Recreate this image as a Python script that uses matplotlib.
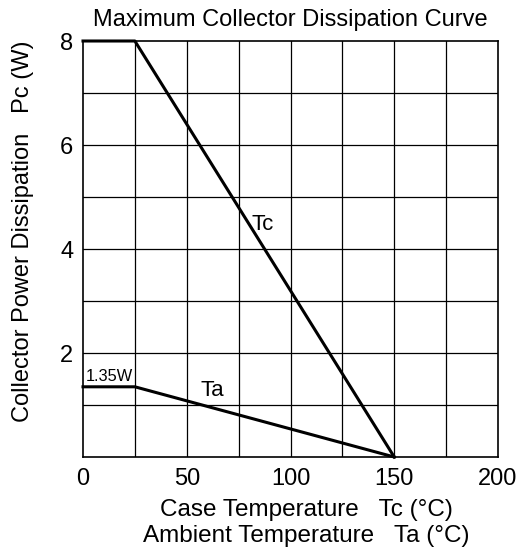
import matplotlib
matplotlib.use("Agg")
import matplotlib.pyplot as plt

plt.rcParams["font.family"] = ["Liberation Sans", "DejaVu Sans"]

# Derating curves (temperature in deg C, power in W)
tc_temp = [0, 25, 150]
tc_power = [8, 8, 0]
ta_temp = [0, 25, 150]
ta_power = [1.35, 1.35, 0]

x_ticks = [0, 50, 100, 150, 200]
y_ticks = [2, 4, 6, 8]

fig = plt.figure(figsize=(5.22, 5.55), dpi=100)
ax = fig.add_axes([83 / 522, 1 - 457 / 555, 415 / 522, 416 / 555])

ax.set_xlim(0, 200)
ax.set_ylim(0, 8)

# Grid every 25 degC and every 1 W
for gx in range(25, 200, 25):
    ax.axvline(gx, color="black", lw=0.9, zorder=1)
for gy in range(1, 8):
    ax.axhline(gy, color="black", lw=0.9, zorder=1)

ax.plot(tc_temp, tc_power, color="black", lw=2.2, zorder=3, clip_on=False)
ax.plot(ta_temp, ta_power, color="black", lw=2.2, zorder=3, clip_on=False)

ax.text(86.5, 4.48, "Tc", fontsize=16, ha="center", va="center")
ax.text(62.5, 1.27, "Ta", fontsize=16, ha="center", va="center")
ax.text(12.5, 1.55, "1.35W", fontsize=11.8, ha="center", va="center")

ax.set_xticks(x_ticks)
ax.set_yticks(y_ticks)
ax.tick_params(length=0, labelsize=17, pad=8)
ax.tick_params(axis="y", pad=7)

for s in ax.spines.values():
    s.set_linewidth(1.2)

ax.set_title("Maximum Collector Dissipation Curve", fontsize=17, pad=11)
ax.set_xlabel("Case Temperature   Tc (\u00b0C)\nAmbient Temperature   Ta (\u00b0C)",
              fontsize=17.5, linespacing=1.25)
ax.xaxis.set_label_coords((306 - 83) / 415, -(499 - 457) / 416)
ax.xaxis.label.set_va("top")
ax.set_ylabel("Collector Power Dissipation   Pc (W)", fontsize=17)
ax.yaxis.set_label_coords((23 - 83) / 415, (457 - 231) / 416)
ax.yaxis.label.set_va("center")

fig.savefig("out.png", dpi=100)
